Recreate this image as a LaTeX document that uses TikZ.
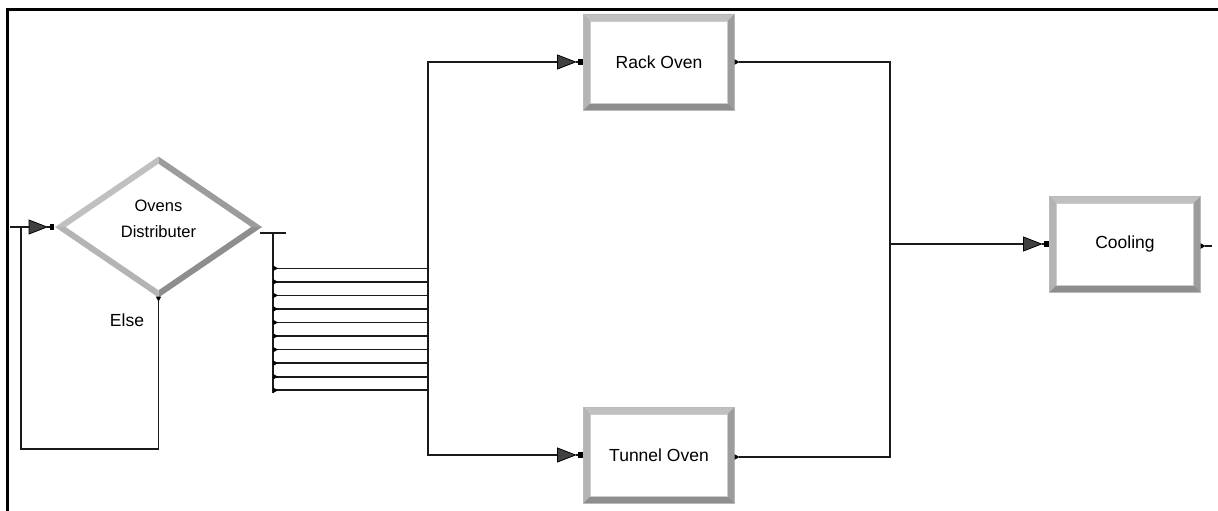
\documentclass[tikz,border=0pt]{standalone}
\usepackage{fontspec}
\setmainfont{Liberation Sans}
\usetikzlibrary{calc,shapes.geometric}
\definecolor{bvA}{HTML}{C0C0C0}
\definecolor{bvB}{HTML}{B4B4B4}
\definecolor{bvC}{HTML}{9C9C9C}
\definecolor{bvD}{HTML}{8E8E8E}
\definecolor{lnc}{HTML}{1A1A1A}
\newcommand\bevelrect[1]{%
  \fill[bvA] (#1.north west) -- (#1.north east) -- ($(#1.north east)+(-7,7)$) -- ($(#1.north west)+(7,7)$) -- cycle;
  \fill[bvB] (#1.north west) -- (#1.south west) -- ($(#1.south west)+(7,-7)$) -- ($(#1.north west)+(7,7)$) -- cycle;
  \fill[bvC] (#1.north east) -- (#1.south east) -- ($(#1.south east)+(-7,-7)$) -- ($(#1.north east)+(-7,7)$) -- cycle;
  \fill[bvD] (#1.south west) -- (#1.south east) -- ($(#1.south east)+(-7,-7)$) -- ($(#1.south west)+(7,-7)$) -- cycle;
  \draw[gray!55,line width=0.7] (#1.north west) rectangle (#1.south east);
  \draw[gray!40,line width=0.5] ($(#1.north west)+(7,7)$) rectangle ($(#1.south east)+(-7,-7)$);
}
\tikzset{
  conn/.style={draw=lnc,line width=1.6},
  boxnode/.style={rectangle,minimum width=151,minimum height=96,inner sep=0,outer sep=0,fill=white,font=\fontsize{17.5}{20}\selectfont},
  lbl/.style={inner sep=0,font=\fontsize{16.5}{19}\selectfont},
  entryarrow/.pic={
    \draw[lnc,line width=1.2] (-8,0) -- (-4,0);
    \fill[black] (-5.5,-2.8) rectangle (-1,2.8);
    \filldraw[fill=black!75,draw=black,line width=0.8] (-26,-7) -- (-8,0) -- (-26,7) -- cycle;
  },
  exitmark/.pic={
    \fill[black] (0,-2.8) -- (5,0) -- (0,2.8) -- cycle;
  },
  downmark/.pic={
    \fill[black] (-2.8,0) -- (0,5) -- (2.8,0) -- cycle;
  }
}
\begin{document}
\begin{tikzpicture}[x=1pt,y=-1pt]
\useasboundingbox (0,0) rectangle (1218,511);
\fill[white] (0,0) rectangle (1218,511);
% frame
\draw[black,line width=3] (7.5,511) -- (7.5,10) -- (1218,10);

% nodes
\node[diamond,minimum width=207,minimum height=141,inner sep=0,outer sep=0,fill=white] (dist) at (158.5,227) {};
\node[boxnode] (rack) at (659,62) {};
\node[boxnode] (tunnel) at (659,455) {};
\node[boxnode] (cool) at (1125,244) {};

% diamond bevels
\fill[bvA] (dist.west) -- (dist.north) -- ($(dist.north)+(0,7.2)$) -- ($(dist.west)+(10.7,0)$) -- cycle;
\fill[bvC] (dist.north) -- (dist.east) -- ($(dist.east)+(-10.7,0)$) -- ($(dist.north)+(0,7.2)$) -- cycle;
\fill[bvD] (dist.east) -- (dist.south) -- ($(dist.south)+(0,-7.2)$) -- ($(dist.east)+(-10.7,0)$) -- cycle;
\fill[bvB] (dist.south) -- (dist.west) -- ($(dist.west)+(10.7,0)$) -- ($(dist.south)+(0,-7.2)$) -- cycle;
\node[lbl] (t1) at (158.5,206) {Ovens};
\node[lbl] (t2) at (158.5,232) {Distributer};

% box bevels
\bevelrect{rack}
\bevelrect{tunnel}
\bevelrect{cool}
\node[rectangle,inner sep=0,font=\fontsize{17.5}{20}\selectfont] (rackt) at (rack) {Rack Oven};
\node[rectangle,inner sep=0,font=\fontsize{17.5}{20}\selectfont] (tunnelt) at (tunnel) {Tunnel Oven};
\node[rectangle,inner sep=0,font=\fontsize{17.5}{20}\selectfont] (coolt) at (cool) {Cooling};

% coordinates
\coordinate (in) at (10,227);
\coordinate (lp) at (21,449);
\coordinate (sp) at (273,233);
\coordinate (spb) at (273,393);
\coordinate (busb) at (428,455);
\coordinate (mg) at (890,244);

% entry to distributer
\draw[conn] (in) -- ($(dist.west)+(-25,0)$);
\pic at (dist.west) {entryarrow};
% else loop
\draw[conn] ($(dist.south)+(0,3)$) |- (lp) -- (lp |- in);
\pic at ($(dist.south)+(0,-1)$) {downmark};
\node[lbl,font=\fontsize{17.5}{20}\selectfont] (else) at (127,320) {Else};

% split
\draw[conn] ($(dist.east)+(-2,6)$) -- ++(26,0);
\draw[conn] (sp) -- (spb);
\foreach \i in {0,...,9}{
  \draw[conn] (273,268.3+13.55*\i) -- (428,268.3+13.55*\i);
  \pic at (273,268.3+13.55*\i) {exitmark};
}
% bus to ovens
\draw[conn] ($(rack.west)+(-25,0)$) -| (busb) -- ($(tunnel.west)+(-25,0)$);
\pic at (rack.west) {entryarrow};
\pic at (tunnel.west) {entryarrow};
% merge
\draw[conn] ($(rack.east)+(4,0)$) -| (mg);
\draw[conn] ($(tunnel.east)+(4,2)$) -| (mg);
\pic at (rack.east) {exitmark};
\pic at ($(tunnel.east)+(0,2)$) {exitmark};
\draw[conn] (mg) -- ($(cool.west)+(-25,0)$);
\pic at (cool.west) {entryarrow};
\draw[conn] ($(cool.east)+(4,2)$) -- ++(7,0);
\pic at ($(cool.east)+(0,2)$) {exitmark};
\end{tikzpicture}
\end{document}
